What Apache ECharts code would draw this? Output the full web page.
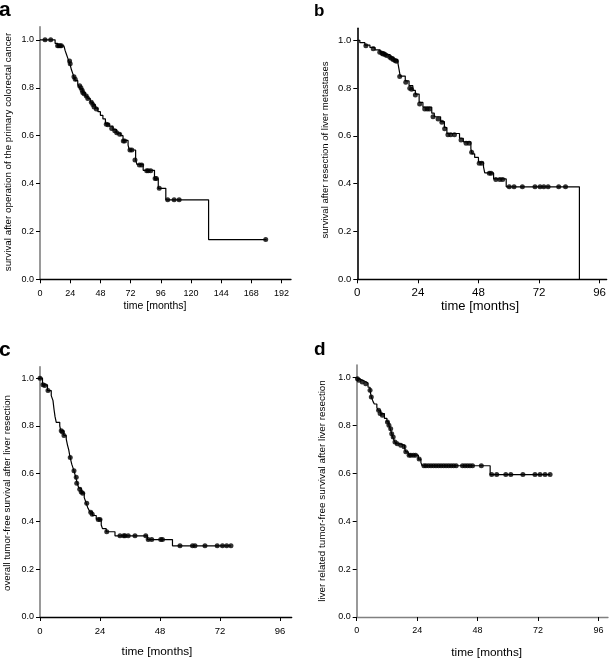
<!DOCTYPE html>
<html><head><meta charset="utf-8">
<script src="https://cdn.jsdelivr.net/npm/echarts@6/dist/echarts.min.js"></script>
<style>html,body{margin:0;padding:0;background:#fff}#c{width:609px;height:658px}</style>
</head><body><div id="c"></div>
<script>
// ---- tick labels ----
const xTicksA = [0, 24, 48, 72, 96, 120, 144, 168, 192];
const xTicksB = [0, 24, 48, 72, 96];
const yTicks = [0, 0.2, 0.4, 0.6, 0.8, 1.0];
const panelLetters = ['a', 'b', 'c', 'd'];
const yTitles = [
  'survival after operation of the primary colorectal cancer',
  'survival after resection of liver metastases',
  'overall tumor-free survival after liver resection',
  'liver related tumor-free survival after liver resection'
];
const xTitle = 'time [months]';

// ---- panel a: steps [month, survival] and censored [month, survival] ----
const stepsA = [[0,1],[12,0.985],[14,0.975],[19,0.968],[20,0.955],[21,0.94],[22,0.925],[23,0.91],[24,0.895],[25,0.875],[26,0.86],[27,0.845],[28,0.83],[30,0.815],[31,0.805],[32,0.795],[34,0.78],[36,0.765],[38,0.755],[40,0.74],[42,0.73],[44,0.715],[46,0.70],[48,0.685],[50,0.67],[52,0.65],[55,0.64],[58,0.625],[61,0.61],[64,0.6],[66,0.58],[70,0.56],[71,0.54],[76,0.5],[77,0.48],[82,0.455],[91,0.42],[94,0.38],[100,0.332],[134,0.166],[180,0.166]];
const censA = [[4,1],[8.5,1],[14,0.975],[15,0.975],[16,0.975],[17,0.975],[23.5,0.912],[24,0.9],[27,0.846],[28,0.836],[31.5,0.808],[32.5,0.8],[33.5,0.79],[34,0.78],[35,0.775],[36.8,0.766],[38,0.755],[40.8,0.739],[42,0.73],[43,0.72],[44.8,0.711],[52.7,0.648],[54,0.645],[57,0.63],[59.4,0.62],[61,0.612],[63.3,0.606],[66.2,0.578],[67.3,0.578],[71.5,0.54],[73,0.54],[75.5,0.498],[79,0.477],[80.8,0.477],[84.8,0.453],[86,0.453],[88,0.453],[91.5,0.421],[92.5,0.421],[94.8,0.38],[101.5,0.332],[106.6,0.332],[110.6,0.332],[179.4,0.166]];

// ---- panel b ----
const stepsB = [[0,1],[1,0.99],[3,0.98],[5,0.97],[7,0.96],[9,0.95],[11,0.94],[13,0.93],[14.5,0.92],[16,0.91],[16.5,0.88],[17,0.85],[19,0.83],[20.5,0.81],[22,0.79],[23,0.775],[24.5,0.74],[26,0.72],[29.5,0.695],[30.5,0.68],[33,0.66],[34.5,0.635],[35.5,0.61],[40.5,0.59],[42,0.575],[45,0.545],[45.5,0.525],[46.5,0.51],[48,0.49],[50,0.47],[50.5,0.445],[54,0.42],[59,0.387],[88,0]];
const censB = [[3.4,0.977],[6.3,0.964],[8.9,0.95],[9.8,0.946],[10.2,0.943],[11,0.94],[11.6,0.936],[12.9,0.929],[13.5,0.925],[14.2,0.919],[14.9,0.915],[15.5,0.912],[16.8,0.848],[19.2,0.824],[20.8,0.799],[21.5,0.795],[23,0.771],[24.7,0.733],[26.7,0.712],[27.7,0.712],[28.6,0.712],[30,0.68],[32,0.671],[33.5,0.657],[34.6,0.63],[35.9,0.605],[37,0.605],[38.5,0.605],[41.1,0.583],[43.1,0.569],[44.3,0.569],[45.3,0.531],[48.3,0.485],[49.3,0.485],[52.3,0.444],[53,0.444],[54.9,0.418],[56.5,0.418],[57.6,0.418],[60.2,0.387],[62.1,0.387],[65.4,0.387],[70.4,0.387],[72.4,0.387],[73.9,0.387],[75.6,0.387],[79.8,0.387],[82.5,0.387]];

// ---- panel c ----
const stepsC = [[0,1],[1,0.972],[3,0.948],[4.5,0.927],[5.2,0.906],[5.6,0.87],[6,0.84],[6.5,0.815],[7.9,0.8],[8.3,0.78],[9.5,0.76],[10.5,0.745],[11,0.72],[11.5,0.7],[12,0.67],[12.7,0.64],[13.5,0.615],[14.3,0.585],[14.9,0.56],[15.5,0.54],[16.5,0.52],[17.7,0.5],[18.5,0.476],[19.2,0.455],[20,0.44],[21,0.425],[22.5,0.41],[24.5,0.385],[25,0.37],[26.5,0.357],[30,0.34],[43,0.324],[53,0.298],[76.4,0.298]];
const censC = [[0,1],[1.2,0.972],[1.9,0.969],[3.2,0.948],[8.5,0.78],[9,0.775],[9.6,0.76],[12.1,0.668],[13.6,0.612],[14.5,0.585],[14.7,0.56],[15.9,0.535],[16.5,0.523],[17.1,0.518],[18.7,0.476],[20.3,0.439],[20.9,0.43],[23.3,0.408],[24,0.408],[26.7,0.357],[32,0.34],[33.5,0.34],[34,0.34],[35.3,0.34],[38,0.34],[42.3,0.34],[43.3,0.324],[44.7,0.324],[48.3,0.324],[49,0.324],[56,0.298],[61,0.298],[62,0.298],[66,0.298],[70.9,0.298],[73,0.298],[74.7,0.298],[76.4,0.298]];

// ---- panel d ----
const stepsD = [[0,1],[0.5,0.993],[1.5,0.986],[3,0.978],[4.5,0.96],[5.3,0.945],[5.8,0.92],[6.5,0.9],[7,0.89],[8,0.875],[8.5,0.864],[9.5,0.85],[11,0.83],[12,0.815],[12.8,0.8],[13.3,0.787],[13.8,0.77],[14.3,0.752],[15,0.735],[15.5,0.724],[17,0.718],[19,0.705],[19.5,0.69],[20.5,0.676],[24.5,0.66],[25.5,0.645],[26,0.632],[53,0.595],[76.8,0.595]];
const censD = [[0.3,0.996],[0.9,0.989],[2.2,0.982],[3.6,0.975],[5.3,0.947],[5.8,0.919],[8.7,0.864],[9.3,0.85],[10.2,0.843],[12.2,0.815],[12.8,0.801],[13.5,0.787],[13.9,0.766],[14.5,0.752],[15.2,0.731],[16.1,0.724],[17.5,0.718],[18.8,0.711],[19.5,0.69],[20.8,0.676],[21.5,0.676],[22.5,0.676],[23.4,0.676],[24.8,0.66],[26.7,0.632],[27.5,0.632],[28.5,0.632],[29.5,0.632],[30.5,0.632],[31.5,0.632],[32.5,0.632],[33.5,0.632],[34.5,0.632],[35.5,0.632],[36.5,0.632],[37.5,0.632],[38.5,0.632],[39.5,0.632],[42,0.632],[43,0.632],[44,0.632],[45,0.632],[46,0.632],[49.5,0.632],[53.6,0.595],[55.6,0.595],[59.2,0.595],[61.2,0.595],[66,0.595],[70.8,0.595],[72.8,0.595],[74.8,0.595],[76.8,0.595]];

const FONT = '"Liberation Sans", Arial, Helvetica, sans-serif';

// layout per panel
const panels = [
  {grid:{left:40, top:26.7, width:251, height:252.6}, xMax:199.5, yMax:1.055, xTicks:xTicksA, xFont:9, xMargin:10, yFont:9, yColor:'#808080', xColor:'#000', steps:stepsA, cens:censA},
  {grid:{left:357.3, top:28.3, width:250.7, height:251}, xMax:98.8, yMax:1.05, xTicks:xTicksB, xFont:11.5, xMargin:7.5, yFont:9.5, yColor:'#000', xColor:'#000', steps:stepsB, cens:censB},
  {grid:{left:40, top:366.7, width:251.7, height:250.3}, xMax:100.7, yMax:1.048, xTicks:xTicksB, xFont:9.5, xMargin:9, yFont:9, yColor:'#808080', xColor:'#000', steps:stepsC, cens:censC},
  {grid:{left:356.7, top:365, width:251.3, height:252}, xMax:99.8, yMax:1.053, xTicks:xTicksB, xFont:9, xMargin:9, yFont:9, yColor:'#808080', xColor:'#808080', steps:stepsD, cens:censD}
];

const grids = [], xAxes = [], yAxes = [], series = [];
panels.forEach((p, i) => {
  grids.push(Object.assign({}, p.grid));
  xAxes.push({
    type:'value', gridIndex:i, min:0, max:p.xMax,
    axisLine:{show:true, onZero:false, lineStyle:{color:p.xColor, width:1.3}},
    axisTick:{show:true, length:4, customValues:p.xTicks, lineStyle:{color:'#000', width:1}},
    axisLabel:{customValues:p.xTicks, fontSize:p.xFont, color:'#000', fontFamily:FONT, margin:p.xMargin},
    splitLine:{show:false}
  });
  yAxes.push({
    type:'value', gridIndex:i, min:0, max:p.yMax,
    axisLine:{show:true, onZero:false, lineStyle:{color:p.yColor, width:1.6}},
    axisTick:{show:true, length:4, customValues:yTicks, lineStyle:{color:'#000', width:1}},
    axisLabel:{customValues:yTicks, fontSize:p.yFont, color:'#000', fontFamily:FONT, margin:6,
      formatter: v => v.toFixed(1)},
    splitLine:{show:false}
  });
  series.push({
    type:'line', xAxisIndex:i, yAxisIndex:i, data:p.steps, step:'end',
    showSymbol:false, symbol:'none', lineStyle:{color:'#000', width:1.2}, silent:true, animation:false
  });
  series.push({
    type:'scatter', xAxisIndex:i, yAxisIndex:i, data:p.cens, symbol:'circle', symbolSize:5,
    itemStyle:{color:'#000'}, silent:true, animation:false
  });
});

const txt = (x, y, text, size, opts, extraStyle) => Object.assign({
  type:'text', x:x, y:y, silent:true,
  style:Object.assign({text:text, fontSize:size, fontFamily:FONT, fill:'#000', align:'center', verticalAlign:'middle'}, extraStyle || {})
}, opts || {});
const bold = {fontWeight:'bold', align:'left'};

const graphics = [
  // panel letters
  txt(-1, 10, panelLetters[0], 21, null, bold),
  txt(314, 11, panelLetters[1], 17, null, bold),
  txt(-1, 350, panelLetters[2], 21, null, bold),
  txt(314, 350, panelLetters[3], 19, null, bold),
  // y titles (rotated)
  txt(8, 152, yTitles[0], 9.8, {rotation:Math.PI/2}),
  txt(325, 150, yTitles[1], 9.5, {rotation:Math.PI/2}),
  txt(7, 493, yTitles[2], 9.7, {rotation:Math.PI/2}),
  txt(322.7, 491, yTitles[3], 9.9, {rotation:Math.PI/2}),
  // x titles
  txt(155, 306, xTitle, 10.5),
  txt(480, 306, xTitle, 13),
  txt(157, 651.7, xTitle, 11.8),
  txt(486.7, 652.3, xTitle, 11.8)
];

const chart = echarts.init(document.getElementById('c'), null, {renderer:'canvas'});
chart.setOption({
  animation:false,
  backgroundColor:'#fff',
  textStyle:{fontFamily:FONT},
  grid:grids, xAxis:xAxes, yAxis:yAxes, series:series,
  graphic:{elements:graphics}
});
</script></body></html>
